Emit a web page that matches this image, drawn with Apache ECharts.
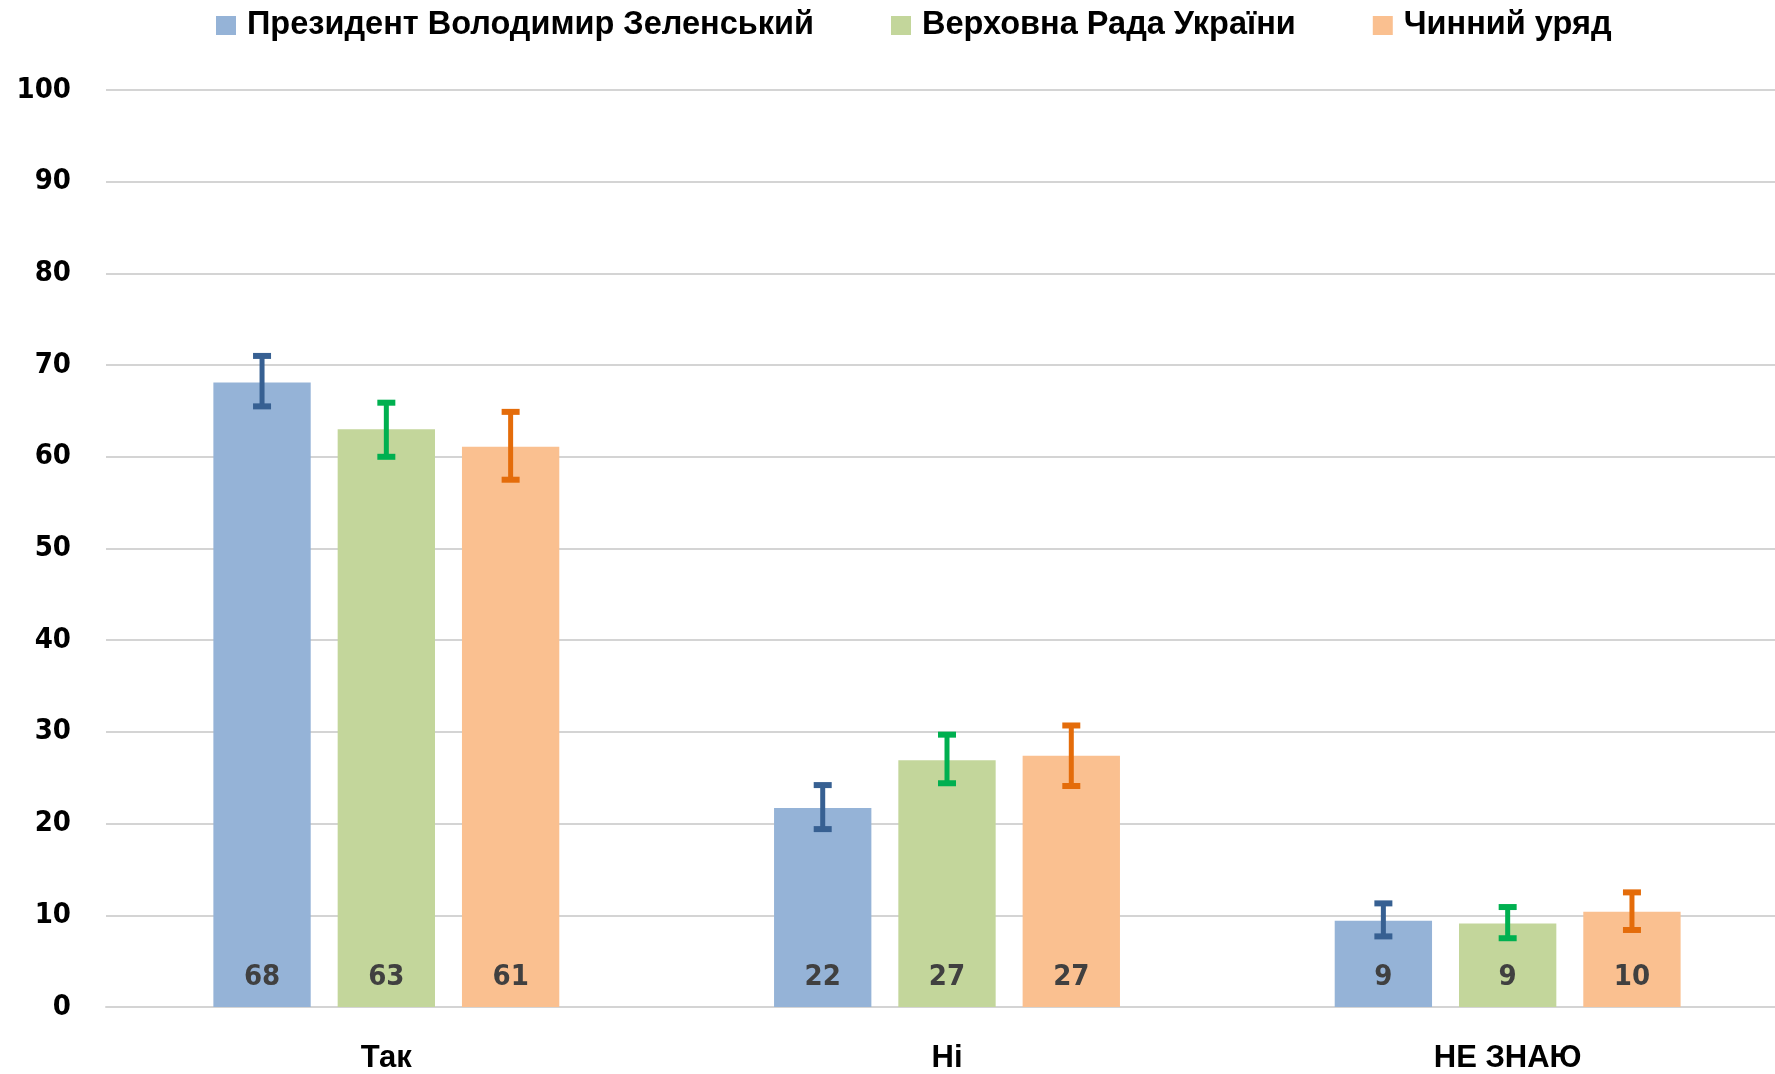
<!DOCTYPE html>
<html><head><meta charset="utf-8">
<script src="https://cdn.jsdelivr.net/npm/echarts@6/dist/echarts.min.js"></script>
<style>html,body{margin:0;padding:0;background:#fff;overflow:hidden}#c{width:1800px;height:1074px}</style>
</head><body><div id="c"></div>
<script>
const categories = ['Так', 'Ні', 'НЕ ЗНАЮ'];
const seriesNames = ['Президент Володимир Зеленський', 'Верховна Рада України', 'Чинний уряд'];
const presidentValues = [68.1, 21.7, 9.4];
const radaValues = [63.0, 26.9, 9.1];
const governmentValues = [61.1, 27.4, 10.4];
const presidentLow = [65.5, 19.4, 7.7];
const presidentHigh = [71.0, 24.2, 11.3];
const radaLow = [60.0, 24.4, 7.5];
const radaHigh = [65.9, 29.7, 10.9];
const governmentLow = [57.5, 24.1, 8.4];
const governmentHigh = [64.9, 30.7, 12.5];
const yTicks = { min: 0, max: 100, interval: 10 };

const barColors = ['#95B3D7', '#C3D69B', '#FAC090'];
const errColors = ['#376092', '#00B050', '#E46C0A'];
const values = [presidentValues, radaValues, governmentValues];
const lows = [presidentLow, radaLow, governmentLow];
const highs = [presidentHigh, radaHigh, governmentHigh];

const BW = 0.1736, GAP = 0.277;
const calibri = '"Liberation Sans", Arial, sans-serif';
const verdana = '"DejaVu Sans Condensed", "DejaVu Sans", sans-serif';

const chart = echarts.init(document.getElementById('c'));
const series = [];
values.forEach((vals, i) => {
  series.push({
    name: seriesNames[i], type: 'bar', data: vals,
    barWidth: (BW * 100) + '%', barGap: (GAP * 100) + '%',
    itemStyle: { color: barColors[i] },
    label: { show: true, position: 'insideBottom', distance: 15,
      formatter: p => Math.round(p.value),
      color: '#404040', fontFamily: verdana, fontWeight: 'bold', fontSize: 29 }
  });
});
lows.forEach((lo, i) => {
  series.push({
    type: 'custom', name: 'err' + i, z: 5,
    data: lo.map((l, k) => [k, l, highs[i][k]]),
    encode: { x: 0, y: [1, 2] },
    renderItem: (params, api) => {
      const k = api.value(0);
      const band = api.size([1, 0])[0];
      const bw = band * BW;
      const off = (i - 1) * bw * (1 + GAP);
      const p1 = api.coord([k, api.value(1)]);
      const p2 = api.coord([k, api.value(2)]);
      const x = p1[0] + off;
      const cap = 9;
      const style = { stroke: errColors[i], lineWidth: 5 };
      const capStyle = { stroke: errColors[i], lineWidth: 6 };
      return { type: 'group', children: [
        { type: 'line', shape: { x1: x, y1: p1[1], x2: x, y2: p2[1] }, style },
        { type: 'line', shape: { x1: x - cap, y1: p1[1], x2: x + cap, y2: p1[1] }, style: capStyle },
        { type: 'line', shape: { x1: x - cap, y1: p2[1], x2: x + cap, y2: p2[1] }, style: capStyle }
      ]};
    }
  });
});

chart.setOption({
  animation: false,
  legend: {
    data: seriesNames, left: 211, top: 4, itemWidth: 20, itemHeight: 19, itemGap: 77,
    icon: 'rect',
    textStyle: { fontFamily: calibri, fontWeight: 'bold', fontSize: 32.5, color: '#000', padding: [0, 0, 0, 6] }
  },
  grid: { left: 106, width: 1682, top: 90, height: 920, containLabel: false },
  xAxis: {
    type: 'category', data: categories,
    axisLine: { lineStyle: { color: '#D4D4D4', width: 2 } },
    axisTick: { show: false },
    axisLabel: { margin: 36, fontFamily: calibri, fontWeight: 'bold', fontSize: 31, color: '#000' }
  },
  yAxis: {
    type: 'value', min: yTicks.min, max: yTicks.max, interval: yTicks.interval,
    axisLine: { show: false }, axisTick: { show: false },
    splitLine: { lineStyle: { color: '#D4D4D4', width: 2 } },
    axisLabel: { margin: 35, fontFamily: verdana, fontWeight: 'bold', fontSize: 29, color: '#000' }
  },
  series
});
</script></body></html>
